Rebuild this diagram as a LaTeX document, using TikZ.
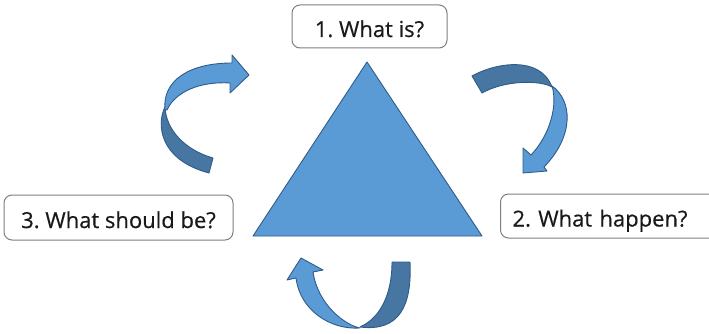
\documentclass[tikz,border=0pt]{standalone}
\usepackage{fontspec}
\setmainfont{Open Sans}
\newfontfamily\lblfont{Open Sans}[FakeBold=0.5]
\frenchspacing
\definecolor{lightb}{RGB}{91,155,213}
\definecolor{darkb}{RGB}{72,118,163}
\definecolor{edgeb}{RGB}{46,92,138}
\definecolor{boxgray}{RGB}{127,127,127}
\definecolor{txt}{RGB}{25,25,25}
\tikzset{
  labelbox/.style={draw=boxgray, line width=1pt, rounded corners=8pt, fill=white,
    text=txt, font=\lblfont\fontsize{22}{25}\selectfont, text height=21pt, text depth=0pt, inner sep=0pt},
  lightpart/.style={fill=lightb, draw=edgeb, line width=0.9pt, line join=round},
  darkpart/.style={fill=darkb, draw=edgeb, line width=0.9pt, line join=round},
}
\begin{document}
\begin{tikzpicture}[x=1pt,y=-1pt]
\useasboundingbox (0,0) rectangle (709,334);
\clip (0,0) rectangle (709,334);
% triangle
\path[lightpart] (367,62) -- (482,236) -- (253,236) -- cycle;
% labels
\node[labelbox, minimum width=155pt, minimum height=43pt] (n1) at (369.5,26.5) {1. What is?};
\node[labelbox, minimum width=229pt, minimum height=45pt] (n3) at (118.5,217.5) {3. What should be?};
\node[labelbox, anchor=west, minimum height=44pt, text width=200pt, inner xsep=12pt, align=left] (n2) at (500,216) {2. What happen?};
% top-left curved arrow
\path[darkpart] (165,107) .. controls (156,125) and (160,160) .. (209,173) -- (213,158)
   .. controls (185,150) and (166,130) .. (165,107) -- cycle;
\path[lightpart] (165,110) .. controls (162,80) and (190,63) .. (232,63) -- (232,55) -- (249,75)
   -- (230,93) -- (230,83) .. controls (200,81) and (175,92) .. (167,110) -- cycle;
% right curved arrow
\path[darkpart] (472,76) .. controls (495,63) and (540,55) .. (552,87)
   .. controls (540,80) and (505,80) .. (482,93) -- cycle;
\path[lightpart] (552,86) .. controls (572,100) and (575,135) .. (544,167) -- (547,171) -- (523,173)
   -- (523,148) -- (531,155) .. controls (550,135) and (558,105) .. (552,86) -- cycle;
% bottom curved arrow
\path[darkpart] (392,262) -- (410,262) .. controls (412,305) and (400,332) .. (360,327)
   .. controls (380,318) and (392,295) .. (392,262) -- cycle;
\path[lightpart] (296,278) .. controls (300,310) and (330,330) .. (360,328)
   .. controls (345,325) and (318,305) .. (313,272) -- (323,270) -- (301,258) -- (287,280) -- cycle;
\end{tikzpicture}
\end{document}
